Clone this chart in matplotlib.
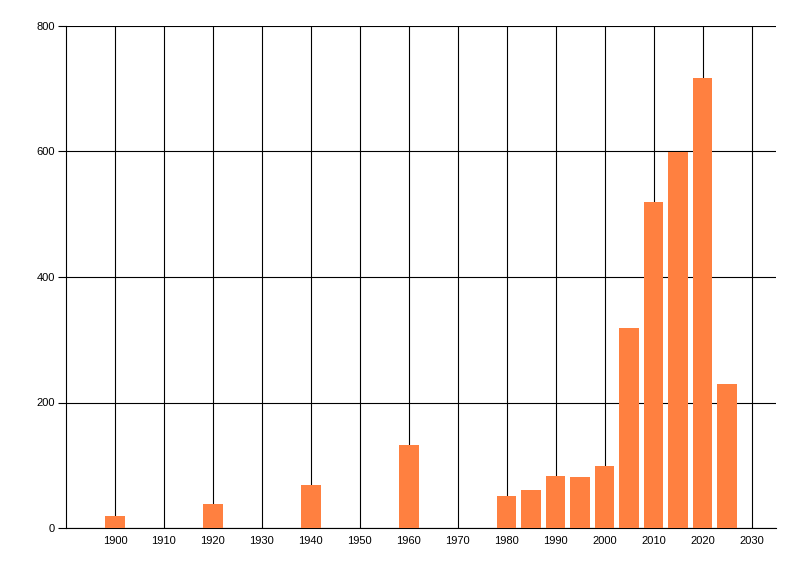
import matplotlib
matplotlib.use("Agg")
import matplotlib.pyplot as plt

years = [1900, 1920, 1940, 1960, 1980, 1985, 1990, 1995, 2000, 2005, 2010, 2015, 2020, 2025]
values = [19, 38, 68, 132, 51, 61, 83, 82, 99, 318, 520, 599, 717, 230]
x_ticks = list(range(1900, 2031, 10))
y_ticks = [0, 200, 400, 600, 800]

plt.rcParams['font.family'] = ['Liberation Sans', 'DejaVu Sans']

fig = plt.figure(figsize=(8, 5.76), dpi=100)
ax = fig.add_axes([66/800, 48/576, 710/800, 502/576])

ax.bar(years, values, width=4, color='#FF8040', zorder=3)

ax.set_xlim(1890, 2035)
ax.set_ylim(0, 800)
ax.set_xticks(x_ticks)
ax.set_yticks(y_ticks)
ax.grid(True, color='black', linewidth=0.8, zorder=1)
ax.set_axisbelow(True)

for s in ['top', 'right']:
    ax.spines[s].set_visible(False)
ax.spines['left'].set_linewidth(0.8)
ax.spines['bottom'].set_linewidth(0.8)

ax.tick_params(axis='y', length=6, width=0.8, pad=2, labelsize=8)
ax.tick_params(axis='x', length=0, pad=6, labelsize=8)

fig.savefig('out.png', dpi=100)
